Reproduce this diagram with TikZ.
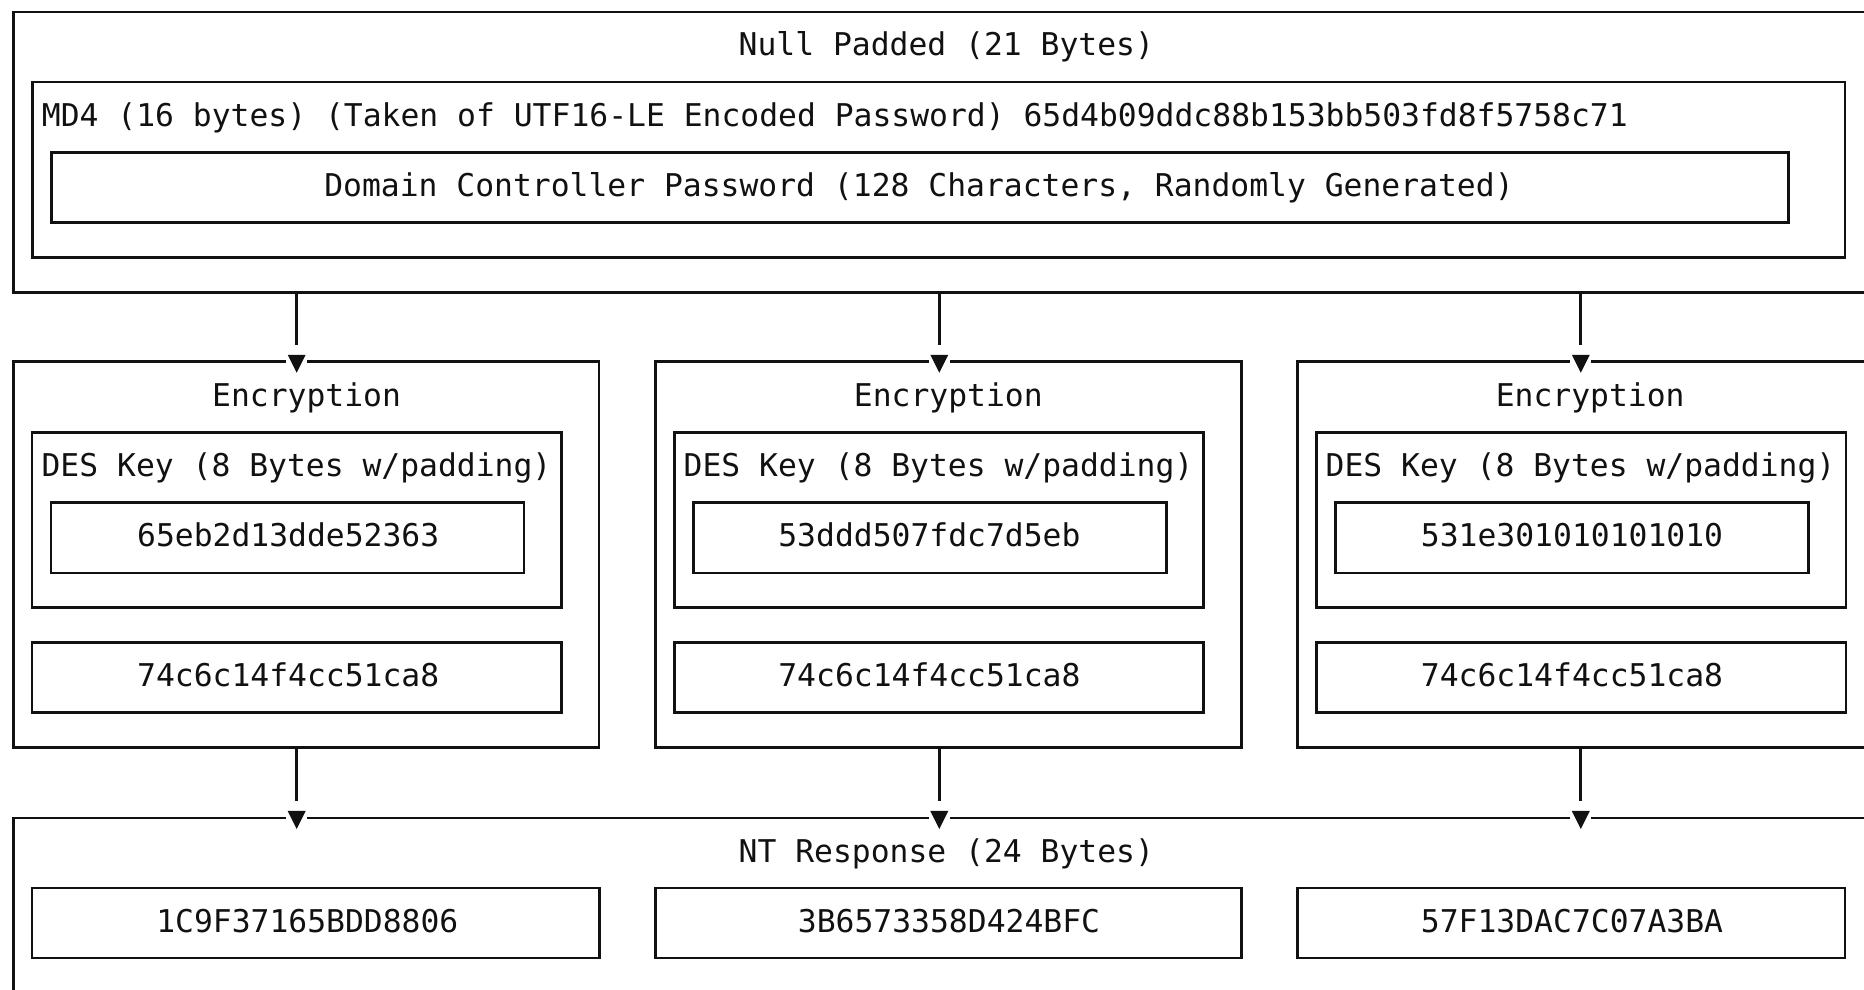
\documentclass[tikz,border=0pt]{standalone}
\usepackage{fontspec}
\setmonofont{DejaVu Sans Mono}
\usetikzlibrary{fit,calc}
\definecolor{ink}{HTML}{111111}
\tikzset{
  frm/.style={draw=ink, line width=1.35pt, inner sep=0pt, outer sep=0pt},
  lbl/.style={font=\ttfamily\fontsize{15.68}{18}\selectfont, text=ink, inner sep=0pt, anchor=base},
  conn/.style={draw=ink, line width=1.35pt},
  tiphead/.style={fill=ink},
}
% frame node from corner coordinates (pixel grid, y downwards)
\newcommand{\frm}[5]{\node[frm, fit={(#2,#3) (#4,#5)}] (#1) {};}
% downward arrow from box #1 into box #2 at column coordinate #3
\newcommand{\feed}[3]{%
  \draw[conn] (#1.south -| #3) -- ($(#2.north -| #3)+(0,-17)$);
  \fill[white] ($(#2.north -| #3)+(-10.5,-3)$) rectangle ($(#2.north -| #3)+(10.5,3)$);
  \fill[tiphead] ($(#2.north -| #3)+(-9,-7)$) -- ($(#2.north -| #3)+(9,-7)$) -- ($(#2.north -| #3)+(0,11)$) -- cycle;
}
\begin{document}
\begin{tikzpicture}[x=0.5pt,y=-0.5pt]
\useasboundingbox (0,0) rectangle (1864,990);
\clip (0,0) rectangle (1864,990);

% ---- hash stage ----
\frm{outer}{13.3}{12.0}{1884}{292.3}
\frm{md4}{32.3}{82.1}{1845}{257.3}
\frm{dom}{51.7}{152.2}{1788.3}{222.2}
\node[lbl] (tnull) at (946.3,56) {Null Padded (21 Bytes)};
\node[lbl, anchor=base west] (tmd4) at (41.5,126.1) {MD4 (16 bytes) (Taken of UTF16-LE Encoded Password) 65d4b09ddc88b153bb503fd8f5758c71};
\node[lbl] (tdom) at (919,196.2) {Domain Controller Password (128 Characters, Randomly Generated)};

% ---- encryption stage ----
\frm{enc1}{13.3}{361.8}{599}{747.8}
\frm{des1}{32.1}{432.6}{561.5}{607.7}
\frm{key1}{51.1}{502.6}{524}{572.9}
\frm{blk1}{32.1}{642.7}{561.5}{712.8}

\frm{enc2}{655.5}{361.8}{1241.2}{747.8}
\frm{des2}{674.3}{432.6}{1203.7}{607.7}
\frm{key2}{693.3}{502.6}{1166.2}{572.9}
\frm{blk2}{674.3}{642.7}{1203.7}{712.8}

\frm{enc3}{1297.7}{361.8}{1883.4}{747.8}
\frm{des3}{1316.5}{432.6}{1845.9}{607.7}
\frm{key3}{1335.5}{502.6}{1808.4}{572.9}
\frm{blk3}{1316.5}{642.7}{1845.9}{712.8}

\node[lbl] (te1) at (306.6,406.4) {Encryption};
\node[lbl] (te2) at (948.3,406.4) {Encryption};
\node[lbl] (te3) at (1590.2,406.4) {Encryption};
\node[lbl] (td1) at (296.5,476.5) {DES Key (8 Bytes w/padding)};
\node[lbl] (td2) at (938.5,476.5) {DES Key (8 Bytes w/padding)};
\node[lbl] (td3) at (1580.5,476.5) {DES Key (8 Bytes w/padding)};
\node[lbl] (tk1) at (288.2,546.6) {65eb2d13dde52363};
\node[lbl] (tk2) at (929.4,546.6) {53ddd507fdc7d5eb};
\node[lbl] (tk3) at (1572,546.6) {531e301010101010};
\node[lbl] (tb1) at (288.2,686.8) {74c6c14f4cc51ca8};
\node[lbl] (tb2) at (929.4,686.8) {74c6c14f4cc51ca8};
\node[lbl] (tb3) at (1572,686.8) {74c6c14f4cc51ca8};

% ---- response stage ----
\frm{nt}{13.3}{817.9}{1884}{1010}
\frm{r1}{32.1}{888}{599.2}{958.1}
\frm{r2}{655.5}{888}{1241.2}{958.1}
\frm{r3}{1297.4}{888}{1845}{958.1}
\node[lbl] (tnt) at (946.3,862) {NT Response (24 Bytes)};
\node[lbl] (tr1) at (307.3,932) {1C9F37165BDD8806};
\node[lbl] (tr2) at (949,932) {3B6573358D424BFC};
\node[lbl] (tr3) at (1572,932) {57F13DAC7C07A3BA};

% ---- connectors ----
\coordinate (c1) at (296.7,0);
\coordinate (c2) at (939.3,0);
\coordinate (c3) at (1580.8,0);
\feed{outer}{enc1}{c1}
\feed{outer}{enc2}{c2}
\feed{outer}{enc3}{c3}
\feed{enc1}{nt}{c1}
\feed{enc2}{nt}{c2}
\feed{enc3}{nt}{c3}
\end{tikzpicture}
\end{document}
